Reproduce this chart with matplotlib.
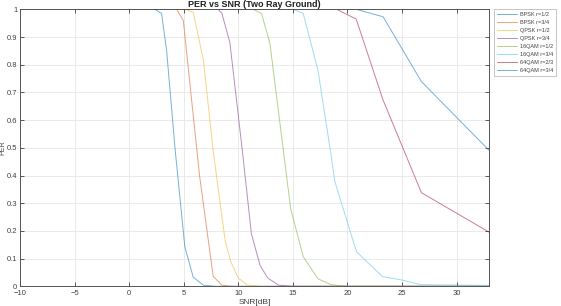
import numpy as np
import matplotlib
matplotlib.use("Agg")
import matplotlib.pyplot as plt

# PER vs SNR curves
labels = ["BPSK r=1/2", "BPSK r=3/4", "QPSK r=1/2", "QPSK r=3/4",
          "16QAM r=1/2", "16QAM r=3/4", "64QAM r=2/3", "64QAM r=3/4"]

snr_bpsk12 = [-10, 2.36, 2.97, 3.43, 4.2, 5.1, 5.87, 6.8, 8.0, 33]
per_bpsk12 = [1.0, 1.0, 0.985, 0.853, 0.50, 0.143, 0.033, 0.004, 0.0, 0.0]

snr_bpsk34 = [-10, 4.35, 4.96, 6.45, 7.7, 8.5, 9.5, 33]
per_bpsk34 = [1.0, 1.0, 0.96, 0.40, 0.036, 0.004, 0.0, 0.0]

snr_qpsk12 = [-10, 5.1, 5.87, 6.8, 7.7, 8.3, 8.8, 9.3, 10.0, 10.8, 12.0, 33]
per_qpsk12 = [1.0, 1.0, 0.99, 0.817, 0.49, 0.31, 0.165, 0.09, 0.03, 0.005, 0.0, 0.0]

snr_qpsk34 = [-10, 8.16, 8.5, 9.23, 10.4, 11.2, 12.0, 12.7, 13.7, 15.0, 33]
per_qpsk34 = [1.0, 1.0, 0.985, 0.88, 0.48, 0.19, 0.075, 0.03, 0.004, 0.0, 0.0]

snr_16qam12 = [-10, 11.36, 12.13, 12.9, 14.1, 14.8, 15.95, 17.3, 18.5, 20.0, 33]
per_16qam12 = [1.0, 1.0, 0.985, 0.877, 0.50, 0.28, 0.107, 0.027, 0.006, 0.0, 0.0]

snr_16qam34 = [-10, 15.03, 15.95, 17.3, 18.4, 18.85, 20.83, 23.2, 24.95, 26.7, 33]
per_16qam34 = [1.0, 1.0, 0.985, 0.78, 0.50, 0.378, 0.125, 0.035, 0.023, 0.006, 0.003]

snr_64qam23 = [-10, 19.0, 20.8, 23.27, 26.78, 33]
per_64qam23 = [1.0, 1.0, 0.965, 0.672, 0.338, 0.195]

snr_64qam34 = [-10, 20.8, 23.27, 26.78, 33]
per_64qam34 = [1.0, 1.0, 0.973, 0.739, 0.49]

snr_all = [snr_bpsk12, snr_bpsk34, snr_qpsk12, snr_qpsk34,
           snr_16qam12, snr_16qam34, snr_64qam23, snr_64qam34]
per_all = [per_bpsk12, per_bpsk34, per_qpsk12, per_qpsk34,
           per_16qam12, per_16qam34, per_64qam23, per_64qam34]

# matlab default color order
colors = ["#0072BD", "#D95319", "#EDB120", "#7E2F8E",
          "#77AC30", "#4DBEEE", "#A2142F"]

plt.rcParams['font.family'] = ['Liberation Sans', 'DejaVu Sans']

fig = plt.figure(figsize=(5.61, 3.06), dpi=100)
ax = fig.add_axes([20/561, 1 - 286.3/306, (489.3 - 20)/561, (286.3 - 9.3)/306])

for i in range(len(labels)):
    ax.plot(snr_all[i], per_all[i], color=colors[i % 7], lw=0.7, alpha=0.55,
            label=labels[i])

ax.set_xlim(-10, 33)
ax.set_ylim(0, 1)
ax.set_xticks(np.arange(-10, 31, 5))
ax.set_yticks(np.arange(0, 1.01, 0.1))
ax.set_yticklabels(["0", "0.1", "0.2", "0.3", "0.4", "0.5", "0.6", "0.7", "0.8", "0.9", "1"])
ax.grid(True, color="#e6e6e6", lw=0.6)
ax.set_axisbelow(True)
ax.tick_params(direction="in", length=3, width=0.6, labelsize=5.5,
               colors="#404040", top=True, right=True, pad=2)
ax.tick_params(axis="x", pad=3)
for s in ax.spines.values():
    s.set_color("#555555")
    s.set_linewidth(0.7)

ax.set_title("PER vs SNR (Two Ray Ground)", fontsize=6.5, fontweight="bold",
             color="#202020", pad=2)
ax.set_xlabel("SNR[dB]", fontsize=6, color="#404040", labelpad=1)
ax.set_ylabel("PER", fontsize=5, color="#404040")
ax.yaxis.set_label_coords(-0.0295, 0.5)

leg = ax.legend(loc="upper left", bbox_to_anchor=(494/561, 1 - 9/306),
                bbox_transform=fig.transFigure, fontsize=4, frameon=True,
                fancybox=False, edgecolor="#999999", handlelength=3.6,
                handletextpad=0.5, borderpad=0.5, labelspacing=0.55,
                borderaxespad=0)
leg.get_frame().set_linewidth(0.5)
for t in leg.get_texts():
    t.set_color("#404040")

fig.savefig("out.png", dpi=100)
